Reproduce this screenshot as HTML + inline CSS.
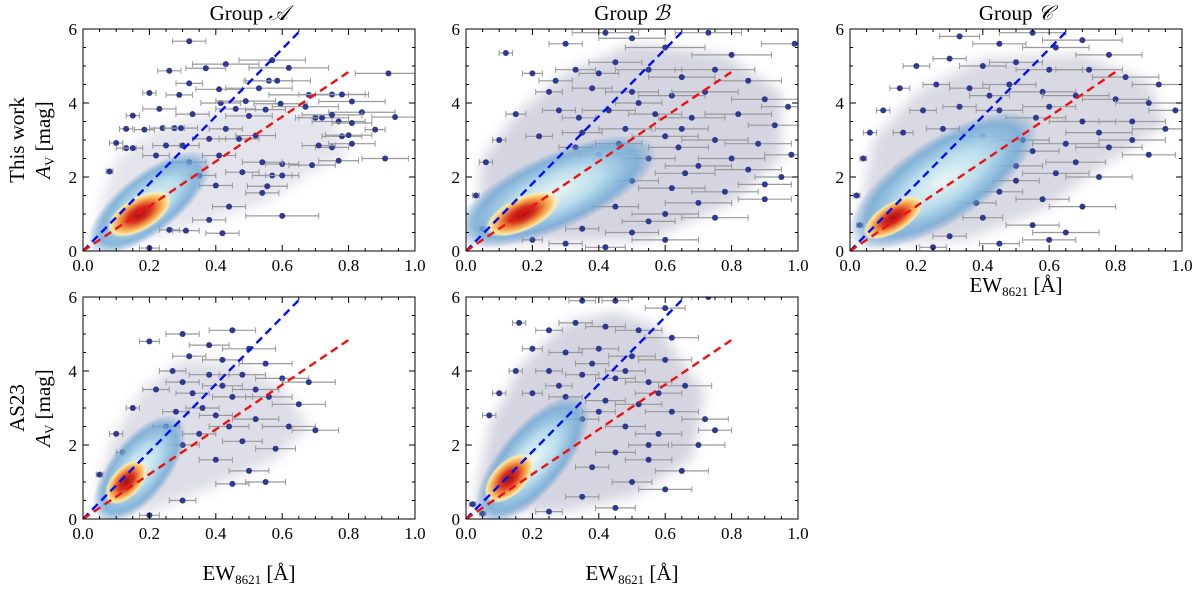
<!DOCTYPE html>
<html><head><meta charset="utf-8">
<style>
html,body{margin:0;padding:0;background:#fff;}
svg{display:block;font-family:"Liberation Serif",serif;}
</style></head>
<body>
<svg id="fig" width="1200" height="590" viewBox="0 0 1200 590">
<defs>
<radialGradient id="gOuter">
<stop offset="0" stop-color="#eaf6f4"/>
<stop offset="0.45" stop-color="#b8dcec"/>
<stop offset="0.8" stop-color="#6ea8d4" stop-opacity="0.8"/>
<stop offset="1" stop-color="#5a90c8" stop-opacity="0"/>
</radialGradient>
<radialGradient id="gInner">
<stop offset="0" stop-color="#a50f15"/>
<stop offset="0.35" stop-color="#d7301f"/>
<stop offset="0.65" stop-color="#f4a04a"/>
<stop offset="0.88" stop-color="#fbe8a0"/>
<stop offset="1" stop-color="#fdf6d0" stop-opacity="0"/>
</radialGradient>
<filter id="blur"><feGaussianBlur stdDeviation="6"/></filter>
</defs>
</svg>
<script>
// ---- data ----
const panelIds = ["a-top","b-top","c-top","a-bottom","b-bottom"];
const xTicks = [0.0,0.2,0.4,0.6,0.8,1.0];
const xTickLabels = ["0.0","0.2","0.4","0.6","0.8","1.0"];
const yTicks = [0,2,4,6];
const yTickLabels = ["0","2","4","6"];
const blueSlope = 9.1;
const blueEnd = 0.66;
const redSlope = 6.05;
const redEnd = 0.8;
// density blobs: [x, y] centres
const blobOuter = [[0.2,1.3],[0.27,1.6],[0.28,1.9],[0.17,1.35],[0.2,1.6]];
const blobInner = [[0.17,1.0],[0.17,1.0],[0.13,0.9],[0.13,1.0],[0.13,1.1]];
// dense point-cloud hulls [x,y]
const hullA = [[0.05,0.2],[0.15,0.2],[0.3,0.6],[0.55,1.3],[0.7,2.2],[0.8,2.6],[0.75,3.6],[0.55,3.9],[0.4,3.8],[0.22,3.3],[0.1,2.5],[0.05,1.2]];
const hullB = [[0.05,0.2],[0.55,0.3],[0.8,1.3],[0.95,2.5],[0.95,4.3],[0.78,5.3],[0.5,5.6],[0.3,4.8],[0.15,3.7],[0.05,2.5],[0.03,0.8]];
const hullC = [[0.05,0.2],[0.35,0.3],[0.58,1.1],[0.78,2.4],[0.95,3.4],[0.9,4.6],[0.7,5.3],[0.4,5.2],[0.2,4.3],[0.07,3],[0.03,1]];
const hullD = [[0.07,0.2],[0.2,0.2],[0.4,0.9],[0.58,1.6],[0.68,2.5],[0.6,3.6],[0.45,4.2],[0.3,4.3],[0.18,3.5],[0.09,2.2],[0.04,0.7]];
const hullE = [[0.04,0.2],[0.3,0.2],[0.5,0.6],[0.68,1.6],[0.72,3.4],[0.58,5.2],[0.45,5.6],[0.3,5.3],[0.16,4.1],[0.07,2.5],[0.03,0.7]];
// points [x, y, xerr]
const ptsA = [[0.32,5.67,0.05],[0.43,5.05,0.1],[0.57,5.16,0.1],[0.26,4.87,0.035],[0.37,4.94,0.06],[0.62,4.95,0.12],[0.92,4.8,0.1],[0.56,4.6,0.07],[0.585,4.6,0.1],[0.32,4.53,0.04],[0.2,4.27,0.02],[0.29,4.22,0.04],[0.41,4.37,0.07],[0.53,4.4,0.1],[0.68,4.22,0.12],[0.75,4.23,0.1],[0.78,4.23,0.08],[0.23,3.84,0.05],[0.415,4.0,0.06],[0.49,4.05,0.09],[0.595,3.98,0.08],[0.67,3.9,0.1],[0.81,4.04,0.1],[0.15,3.66,0.02],[0.33,3.7,0.05],[0.55,3.82,0.06],[0.84,3.75,0.1],[0.94,3.62,0.07],[0.7,3.6,0.05],[0.72,3.6,0.08],[0.75,3.68,0.09],[0.77,3.5,0.08],[0.81,3.46,0.06],[0.13,3.3,0.02],[0.185,3.28,0.03],[0.24,3.32,0.04],[0.275,3.32,0.03],[0.295,3.32,0.05],[0.88,3.28,0.03],[0.78,3.1,0.06],[0.8,3.13,0.07],[0.1,2.92,0.02],[0.13,2.78,0.03],[0.15,2.78,0.03],[0.81,2.9,0.07],[0.75,2.8,0.05],[0.71,2.85,0.05],[0.6,2.35,0.05],[0.69,2.32,0.07],[0.77,2.44,0.06],[0.91,2.5,0.07],[0.08,2.15,0.01],[0.57,2.04,0.06],[0.6,2.04,0.05],[0.555,1.75,0.06],[0.54,1.57,0.05],[0.44,1.2,0.05],[0.6,0.95,0.11],[0.42,0.48,0.05],[0.2,0.08,0.03],[0.38,0.84,0.05],[0.31,0.55,0.04],[0.26,0.57,0.03],[0.46,3.84,0.06],[0.5,3.65,0.07],[0.43,3.3,0.05],[0.47,3.03,0.06],[0.52,3.12,0.06],[0.54,2.4,0.06],[0.48,2.13,0.05],[0.4,1.77,0.05],[0.35,2.04,0.05],[0.32,2.4,0.05],[0.3,2.85,0.05],[0.41,2.58,0.05],[0.38,3.03,0.05],[0.25,2.85,0.04],[0.22,2.58,0.04]];
const ptsB = [[0.12,5.35,0.02],[0.3,5.6,0.05],[0.42,5.9,0.1],[0.5,5.75,0.1],[0.6,5.5,0.12],[0.73,5.9,0.1],[0.8,5.3,0.12],[0.99,5.6,0.1],[0.2,4.8,0.03],[0.33,4.9,0.06],[0.45,5.1,0.08],[0.55,4.9,0.1],[0.65,4.7,0.1],[0.75,4.9,0.12],[0.85,4.6,0.1],[0.25,4.3,0.04],[0.38,4.4,0.06],[0.5,4.3,0.08],[0.62,4.2,0.1],[0.72,4.3,0.1],[0.9,4.1,0.1],[0.97,3.9,0.08],[0.15,3.7,0.03],[0.28,3.8,0.05],[0.43,3.8,0.08],[0.57,3.7,0.08],[0.68,3.6,0.1],[0.82,3.7,0.1],[0.93,3.4,0.08],[0.1,3.0,0.02],[0.22,3.1,0.04],[0.35,3.2,0.06],[0.48,3.3,0.08],[0.6,3.1,0.1],[0.75,3.0,0.1],[0.88,2.9,0.1],[0.98,2.6,0.08],[0.06,2.4,0.02],[0.4,2.6,0.06],[0.55,2.5,0.08],[0.7,2.3,0.1],[0.85,2.2,0.1],[0.95,2.0,0.08],[0.5,1.9,0.08],[0.62,1.7,0.1],[0.78,1.6,0.1],[0.9,1.4,0.08],[0.45,1.2,0.07],[0.6,1.0,0.1],[0.75,0.9,0.1],[0.35,0.6,0.05],[0.5,0.5,0.08],[0.3,0.2,0.05],[0.42,0.1,0.06],[0.6,0.3,0.1],[0.2,0.3,0.03],[0.03,1.5,0.01],[0.05,0.6,0.01],[0.34,3.6,0.05],[0.46,2.9,0.07],[0.64,2.8,0.09],[0.38,2.2,0.06],[0.27,4.6,0.05],[0.4,4.8,0.06],[0.52,4.0,0.07],[0.65,3.3,0.08],[0.8,2.5,0.1],[0.9,1.8,0.08],[0.7,1.3,0.1],[0.55,0.8,0.08],[0.66,2.1,0.09],[0.33,2.8,0.05]];
const ptsC = [[0.33,5.8,0.06],[0.45,5.6,0.08],[0.55,5.9,0.1],[0.62,5.5,0.1],[0.7,5.7,0.12],[0.78,5.3,0.1],[0.2,5.0,0.04],[0.3,5.2,0.05],[0.4,5.0,0.07],[0.5,5.1,0.08],[0.6,4.9,0.1],[0.72,4.9,0.1],[0.83,4.7,0.1],[0.93,4.5,0.08],[0.15,4.4,0.03],[0.26,4.5,0.04],[0.36,4.4,0.06],[0.48,4.5,0.08],[0.58,4.3,0.1],[0.68,4.2,0.1],[0.8,4.1,0.1],[0.9,4.0,0.1],[0.98,3.8,0.08],[0.1,3.8,0.02],[0.22,3.8,0.04],[0.33,3.9,0.05],[0.45,3.8,0.07],[0.56,3.6,0.09],[0.7,3.5,0.1],[0.85,3.5,0.1],[0.95,3.3,0.1],[0.06,3.2,0.02],[0.16,3.2,0.03],[0.28,3.3,0.05],[0.4,3.1,0.06],[0.52,3.0,0.08],[0.65,2.9,0.1],[0.78,2.8,0.1],[0.9,2.6,0.08],[0.04,2.5,0.01],[0.35,2.5,0.06],[0.5,2.3,0.08],[0.62,2.1,0.1],[0.75,2.0,0.1],[0.45,1.6,0.07],[0.58,1.4,0.08],[0.7,1.2,0.1],[0.4,0.9,0.06],[0.55,0.7,0.08],[0.65,0.5,0.1],[0.3,0.4,0.05],[0.45,0.2,0.06],[0.25,0.1,0.04],[0.6,0.3,0.08],[0.02,1.5,0.01],[0.03,0.7,0.01],[0.42,4.2,0.06],[0.6,3.9,0.08],[0.75,3.2,0.1],[0.85,3.0,0.1],[0.55,2.7,0.08],[0.68,2.4,0.09],[0.5,1.9,0.07],[0.38,1.3,0.06]];
const ptsD = [[0.2,4.8,0.03],[0.3,5.0,0.05],[0.38,4.7,0.06],[0.45,5.1,0.07],[0.5,4.6,0.08],[0.32,4.4,0.05],[0.42,4.3,0.06],[0.55,4.2,0.08],[0.27,4.0,0.04],[0.38,3.9,0.06],[0.48,3.9,0.07],[0.6,3.8,0.08],[0.68,3.7,0.08],[0.22,3.5,0.04],[0.33,3.4,0.05],[0.45,3.3,0.06],[0.56,3.3,0.07],[0.65,3.1,0.08],[0.15,3.0,0.02],[0.28,2.9,0.04],[0.4,2.8,0.05],[0.52,2.7,0.07],[0.62,2.5,0.08],[0.7,2.4,0.07],[0.1,2.3,0.02],[0.35,2.3,0.05],[0.48,2.1,0.06],[0.58,1.9,0.06],[0.4,1.6,0.05],[0.5,1.3,0.06],[0.45,0.95,0.05],[0.55,1.0,0.06],[0.3,0.5,0.04],[0.2,0.1,0.03],[0.05,1.2,0.01],[0.12,1.8,0.02],[0.25,2.5,0.04],[0.36,3.0,0.05],[0.3,3.7,0.05],[0.42,3.6,0.06],[0.52,3.5,0.07],[0.44,2.5,0.06],[0.3,2.0,0.05]];
const ptsE = [[0.35,5.9,0.04],[0.45,5.9,0.04],[0.6,5.7,0.06],[0.73,6.0,0.05],[0.16,5.3,0.02],[0.25,5.1,0.04],[0.33,5.3,0.05],[0.42,5.2,0.06],[0.52,5.1,0.07],[0.62,4.9,0.08],[0.2,4.6,0.03],[0.3,4.5,0.05],[0.4,4.6,0.06],[0.5,4.4,0.07],[0.6,4.3,0.08],[0.15,4.0,0.02],[0.25,4.0,0.04],[0.35,3.9,0.05],[0.45,3.8,0.06],[0.55,3.7,0.07],[0.66,3.6,0.08],[0.1,3.4,0.02],[0.2,3.4,0.03],[0.3,3.3,0.05],[0.42,3.2,0.06],[0.52,3.1,0.07],[0.62,2.9,0.08],[0.72,2.7,0.07],[0.07,2.8,0.02],[0.35,2.7,0.05],[0.48,2.5,0.06],[0.58,2.3,0.07],[0.7,2.0,0.08],[0.75,2.4,0.05],[0.45,1.8,0.06],[0.55,1.6,0.07],[0.65,1.3,0.08],[0.5,1.0,0.06],[0.6,0.8,0.08],[0.35,0.6,0.05],[0.45,0.3,0.06],[0.25,0.2,0.04],[0.02,0.4,0.01],[0.05,0.15,0.01],[0.38,4.2,0.05],[0.48,4.0,0.06],[0.28,3.6,0.04],[0.58,3.4,0.07],[0.4,2.9,0.05],[0.55,2.0,0.06],[0.38,1.4,0.05]];
const hulls = [hullA,hullB,hullC,hullD,hullE];
const pointSets = [ptsA,ptsB,ptsC,ptsD,ptsE];
const hullAlpha = [0.16,0.26,0.24,0.2,0.26];
const outerSize = [[75,30,-38],[110,38,-24],[110,42,-33],[65,30,-52],[80,33,-50]];
const innerSize = [[36,17,-30],[40,17,-25],[34,15,-32],[27,15,-48],[31,17,-45]];

// ---- layout ----
const boxes = [[83,29],[466,29],[850,29],[83,297],[466,297]];
const W = 332, H = 222;
const svg = document.getElementById('fig');
const NS = 'http://www.w3.org/2000/svg';
function mk(tag, attrs, parent){const e=document.createElementNS(NS,tag);for(const k in attrs)e.setAttribute(k,attrs[k]);(parent||svg).appendChild(e);return e;}

boxes.forEach((b,i)=>{
  const X0=b[0], Y0=b[1];
  const sx = v => X0 + v*W;
  const sy = v => Y0 + H - v/6*H;
  const g = mk('g',{});
  
  
  const cid='clip'+i;
  const cp = mk('clipPath',{id:cid},g); mk('rect',{x:X0,y:Y0,width:W,height:H},cp);
  const pg = mk('g',{'clip-path':'url(#'+cid+')'},g);
  // hull
  const hull = mk('polygon',{points:hulls[i].map(p=>sx(p[0])+','+sy(p[1])).join(' '),fill:'rgba(90,90,140,'+hullAlpha[i]+')',filter:'url(#blur)'},pg);
  
  
  // points
  pointSets[i].forEach(p=>{
    const l = mk('line',{x1:sx(p[0]-p[2]),x2:sx(p[0]+p[2]),y1:sy(p[1]),y2:sy(p[1]),stroke:'#999','stroke-width':1.2},pg);
    
    
    [p[0]-p[2],p[0]+p[2]].forEach(e=>mk('line',{x1:sx(e),x2:sx(e),y1:sy(p[1])-3,y2:sy(p[1])+3,stroke:'#999','stroke-width':1},pg));
    const c = mk('circle',{cx:sx(p[0]),cy:sy(p[1]),r:3,fill:'#2e3a8f'},pg);
    
    
  });
  // density
  const o=blobOuter[i], os=outerSize[i];
  const eo = mk('ellipse',{cx:sx(o[0]),cy:sy(o[1]),rx:os[0],ry:os[1],fill:'url(#gOuter)',transform:'rotate('+os[2]+' '+sx(o[0])+' '+sy(o[1])+')'},pg);
  
  
  const n=blobInner[i], ns=innerSize[i];
  const en = mk('ellipse',{cx:sx(n[0]),cy:sy(n[1]),rx:ns[0],ry:ns[1],fill:'url(#gInner)',transform:'rotate('+ns[2]+' '+sx(n[0])+' '+sy(n[1])+')'},pg);
  
  
  // lines
  const bl = mk('line',{x1:sx(0),y1:sy(0),x2:sx(blueEnd),y2:sy(blueSlope*blueEnd),stroke:'#0010ee','stroke-width':2.4,'stroke-dasharray':'8,5'},pg);
  
  
  const rl = mk('line',{x1:sx(0),y1:sy(0),x2:sx(redEnd),y2:sy(redSlope*redEnd),stroke:'#ee1111','stroke-width':2.4,'stroke-dasharray':'8,5'},pg);
  
  
  // frame
  const fr = mk('rect',{x:X0,y:Y0,width:W,height:H,fill:'none',stroke:'#000','stroke-width':1},g);
  
  
  // ticks
  for(let k=0;k<=20;k++){const v=k*0.05;const major=k%4===0;const L=major?6:3;
    mk('line',{x1:sx(v),x2:sx(v),y1:Y0+H,y2:Y0+H-L,stroke:'#000'},g);
    mk('line',{x1:sx(v),x2:sx(v),y1:Y0,y2:Y0+L,stroke:'#000'},g);}
  for(let k=0;k<=12;k++){const v=k*0.5;const major=k%4===0;const L=major?6:3;
    mk('line',{x1:X0,x2:X0+L,y1:sy(v),y2:sy(v),stroke:'#000'},g);
    mk('line',{x1:X0+W,x2:X0+W-L,y1:sy(v),y2:sy(v),stroke:'#000'},g);}
  xTicks.forEach((v,k)=>{const t=mk('text',{x:sx(v),y:Y0+H+20,'text-anchor':'middle','font-size':17},g);t.textContent=xTickLabels[k];
    
    });
  yTicks.forEach((v,k)=>{const t=mk('text',{x:X0-6,y:sy(v)+6,'text-anchor':'end','font-size':17},g);t.textContent=yTickLabels[k];
    
    });
});
</script>
<svg width="1200" height="590" style="position:absolute;left:0;top:0">
<g font-family="Liberation Serif,serif" font-size="21" fill="#000">
<text x="249" y="20" text-anchor="middle">Group <tspan font-style="italic" font-family="DejaVu Serif,serif">𝒜</tspan></text>
<text x="632" y="20" text-anchor="middle">Group <tspan font-style="italic" font-family="DejaVu Serif,serif">ℬ</tspan></text>
<text x="1016" y="20" text-anchor="middle">Group <tspan font-style="italic" font-family="DejaVu Serif,serif">𝒞</tspan></text>
<text transform="translate(24,140) rotate(-90)" text-anchor="middle">This work</text>
<text transform="translate(50,140) rotate(-90)" text-anchor="middle"><tspan font-style="italic">A</tspan><tspan font-size="13" dy="4">V</tspan><tspan dy="-4"> [mag]</tspan></text>
<text transform="translate(24,408) rotate(-90)" text-anchor="middle">AS23</text>
<text transform="translate(50,408) rotate(-90)" text-anchor="middle"><tspan font-style="italic">A</tspan><tspan font-size="13" dy="4">V</tspan><tspan dy="-4"> [mag]</tspan></text>
<text x="1016" y="292" text-anchor="middle">EW<tspan font-size="13" dy="4">8621</tspan><tspan dy="-4"> [Å]</tspan></text>
<text x="249" y="580" text-anchor="middle">EW<tspan font-size="13" dy="4">8621</tspan><tspan dy="-4"> [Å]</tspan></text>
<text x="632" y="580" text-anchor="middle">EW<tspan font-size="13" dy="4">8621</tspan><tspan dy="-4"> [Å]</tspan></text>
</g>
</svg>
</body></html>
